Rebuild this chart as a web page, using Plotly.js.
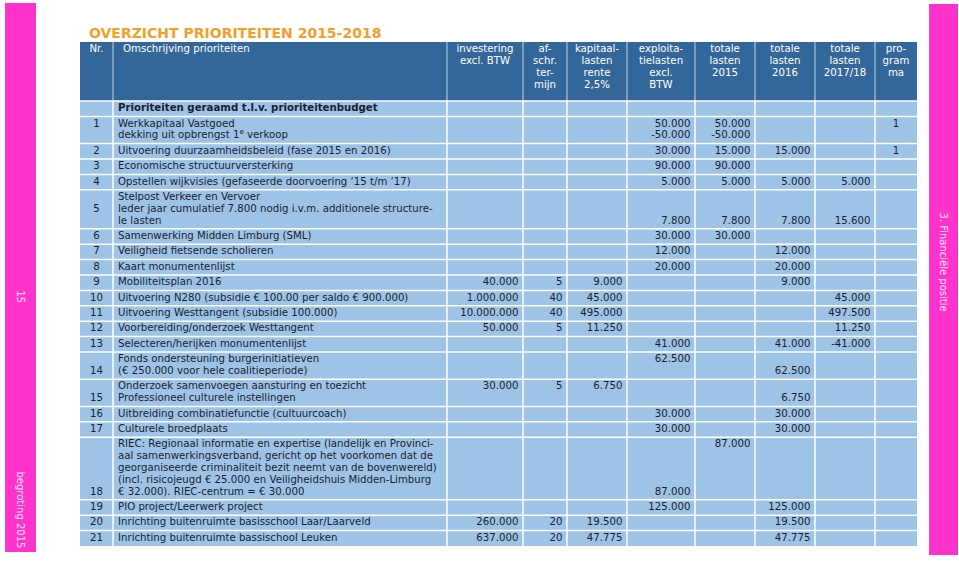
<!DOCTYPE html>
<html>
<head>
<meta charset="utf-8">
<script src="https://cdn.plot.ly/plotly-3.0.1.min.js"></script>
<style>html,body{margin:0;padding:0;background:#fff}</style>
</head>
<body>
<div id="chart" style="width:959px;height:561px"></div>
<script>
var title = 'OVERZICHT PRIORITEITEN 2015-2018';

var headers = ['Nr.', 'Omschrijving prioriteiten', 'investering\nexcl. BTW', 'af-\nschr.\nter-\nmijn',
  'kapitaal-\nlasten\nrente\n2,5%', 'exploita-\ntielasten\nexcl.\nBTW', 'totale\nlasten\n2015',
  'totale\nlasten\n2016', 'totale\nlasten\n2017/18', 'pro-\ngram\nma'];

var nr = ['', '1', '2', '3', '4', '5', '6', '7', '8', '9', '10', '11', '12', '13', '14', '15', '16', '17', '18', '19', '20', '21'];

var omschrijving = [
  'Prioriteiten geraamd t.l.v. prioriteitenbudget',
  'Werkkapitaal Vastgoed\ndekking uit opbrengst 1<sup>e</sup> verkoop',
  'Uitvoering duurzaamheidsbeleid (fase 2015 en 2016)',
  'Economische structuurversterking',
  'Opstellen wijkvisies (gefaseerde doorvoering ‘15 t/m ’17)',
  'Stelpost Verkeer en Vervoer\nIeder jaar cumulatief 7.800 nodig i.v.m. additionele structure-\nle lasten',
  'Samenwerking Midden Limburg (SML)',
  'Veiligheid fietsende scholieren',
  'Kaart monumentenlijst',
  'Mobiliteitsplan 2016',
  'Uitvoering N280 (subsidie € 100.00 per saldo € 900.000)',
  'Uitvoering Westtangent (subsidie 100.000)',
  'Voorbereiding/onderzoek Westtangent',
  'Selecteren/herijken monumentenlijst',
  'Fonds ondersteuning burgerinitiatieven\n(€ 250.000 voor hele coalitieperiode)',
  'Onderzoek samenvoegen aansturing en toezicht\nProfessioneel culturele instellingen',
  'Uitbreiding combinatiefunctie (cultuurcoach)',
  'Culturele broedplaats',
  'RIEC: Regionaal informatie en expertise (landelijk en Provinci-\naal samenwerkingsverband, gericht op het voorkomen dat de\ngeorganiseerde criminaliteit bezit neemt van de bovenwereld)\n(incl. risicojeugd € 25.000 en Veiligheidshuis Midden-Limburg\n€ 32.000). RIEC-centrum = € 30.000',
  'PIO project/Leerwerk project',
  'Inrichting buitenruimte basisschool Laar/Laarveld',
  'Inrichting buitenruimte bassischool Leuken'
];

var investering = ['', '', '', '', '', '', '', '', '', '40.000', '1.000.000', '10.000.000', '50.000', '', '', '30.000', '', '', '', '', '260.000', '637.000'];
var afschrijving = ['', '', '', '', '', '', '', '', '', '5', '40', '40', '5', '', '', '5', '', '', '', '', '20', '20'];
var kapitaallasten = ['', '', '', '', '', '', '', '', '', '9.000', '45.000', '495.000', '11.250', '', '', '6.750', '', '', '', '', '19.500', '47.775'];
var exploitatie = ['', '50.000\n-50.000', '30.000', '90.000', '5.000', '7.800', '30.000', '12.000', '20.000', '', '', '', '', '41.000', '62.500', '', '30.000', '30.000', '87.000', '125.000', '', ''];
var lasten2015 = ['', '50.000\n-50.000', '15.000', '90.000', '5.000', '7.800', '30.000', '', '', '', '', '', '', '', '', '', '', '', '87.000', '', '', ''];
var lasten2016 = ['', '', '15.000', '', '5.000', '7.800', '', '12.000', '20.000', '9.000', '', '', '', '41.000', '62.500', '6.750', '30.000', '30.000', '', '125.000', '19.500', '47.775'];
var lasten2017 = ['', '', '', '', '5.000', '15.600', '', '', '', '', '45.000', '497.500', '11.250', '-41.000', '', '', '', '', '', '', '', ''];
var programma = ['', '1', '1', '', '', '', '', '', '', '', '', '', '', '', '', '', '', '', '', '', '', ''];

var sideLeft = ['15', 'begroting 2015'];
var sideRight = '3. Financiële positie';

// layout of the table
var columns = [nr, omschrijving, investering, afschrijving, kapitaallasten, exploitatie, lasten2015, lasten2016, lasten2017, programma];
var colWidths = [33, 334, 76, 44, 60, 68, 60, 60, 60, 42];
var colAlign = ['center', 'left', 'right', 'right', 'right', 'right', 'right', 'right', 'right', 'center'];
var boldRows = [0];
// line on which a cell starts when it is not the first line of its row
var startLine = {
  5: {0: 1, 5: 2, 6: 2, 7: 2, 8: 2},
  14: {0: 1, 7: 1},
  15: {0: 1, 7: 1},
  18: {0: 4, 5: 4}
};
var tableLeft = 80, headTop = 42, headHeight = 59;
var lineH = 11.8, rowPad = 3.6, cellPad = 4.5;

var edges = [tableLeft];
colWidths.forEach(function (w) { edges.push(edges[edges.length - 1] + w); });
var tableRight = edges[edges.length - 1];

var nLines = nr.map(function (d, r) {
  var n = 1;
  columns.forEach(function (col, c) {
    if (!col[r]) return;
    var first = (startLine[r] && startLine[r][c]) || 0;
    n = Math.max(n, first + col[r].split('\n').length);
  });
  return n;
});
var rowTops = [headTop + headHeight];
nLines.forEach(function (n) { rowTops.push(rowTops[rowTops.length - 1] + n * lineH + rowPad); });
var tableBottom = rowTops[rowTops.length - 1];

function anchorX(c, pad) {
  if (colAlign[c] === 'left') return edges[c] + pad;
  if (colAlign[c] === 'right') return edges[c + 1] - pad;
  return (edges[c] + edges[c + 1]) / 2;
}
var posOf = {left: 'middle right', right: 'middle left', center: 'middle center'};

// body text
var bx = [], by = [], bt = [], bp = [];
columns.forEach(function (col, c) {
  col.forEach(function (cell, r) {
    if (!cell) return;
    var first = (startLine[r] && startLine[r][c]) || 0;
    cell.split('\n').forEach(function (line, k) {
      bx.push(anchorX(c, c === 1 ? 5 : cellPad));
      by.push(rowTops[r] + rowPad / 2 + lineH * (first + k + 0.5));
      bt.push(boldRows.indexOf(r) >= 0 ? '<b>' + line + '</b>' : line);
      bp.push(posOf[colAlign[c]]);
    });
  });
});

// header text
var hx = [], hy = [], ht = [], hp = [];
var headAlign = ['center', 'left', 'center', 'center', 'center', 'center', 'center', 'center', 'center', 'center'];
headers.forEach(function (h, c) {
  h.split('\n').forEach(function (line, k) {
    var x = headAlign[c] === 'left' ? edges[c] + 10 : (edges[c] + edges[c + 1]) / 2;
    hx.push(x);
    hy.push(headTop + 2 + lineH * (k + 0.5));
    ht.push(line);
    hp.push(headAlign[c] === 'left' ? 'middle right' : 'middle center');
  });
});

var shapes = [
  {type: 'rect', xref: 'x', yref: 'y', x0: 5, x1: 36, y0: 3, y1: 552, fillcolor: '#ff33cc', line: {width: 0}, layer: 'below'},
  {type: 'rect', xref: 'x', yref: 'y', x0: 929, x1: 958, y0: 4, y1: 555, fillcolor: '#ff33cc', line: {width: 0}, layer: 'below'},
  {type: 'rect', xref: 'x', yref: 'y', x0: tableLeft, x1: tableRight, y0: headTop, y1: headTop + headHeight, fillcolor: '#346799', line: {width: 0}, layer: 'below'},
  {type: 'rect', xref: 'x', yref: 'y', x0: tableLeft, x1: tableRight, y0: headTop + headHeight, y1: tableBottom, fillcolor: '#9dc3e6', line: {width: 0}, layer: 'below'}
];
edges.slice(1, -1).forEach(function (x) {
  shapes.push({type: 'line', xref: 'x', yref: 'y', x0: x, x1: x, y0: headTop, y1: headTop + headHeight, line: {color: 'rgba(230,240,250,0.8)', width: 1}, layer: 'below'});
  shapes.push({type: 'line', xref: 'x', yref: 'y', x0: x, x1: x, y0: headTop + headHeight, y1: tableBottom, line: {color: '#ffffff', width: 1.5}, layer: 'below'});
});
rowTops.slice(0, -1).forEach(function (y) {
  shapes.push({type: 'line', xref: 'x', yref: 'y', x0: tableLeft, x1: tableRight, y0: y, y1: y, line: {color: '#ffffff', width: 1.5}, layer: 'below'});
});

var sideFont = {family: 'DejaVu Sans, Verdana, sans-serif', size: 10, color: '#ffe0f6'};
var annotations = [
  {text: sideLeft[0], x: 20.5, y: 297, xref: 'x', yref: 'y', showarrow: false, textangle: 90, font: sideFont},
  {text: sideLeft[1], x: 20.5, y: 510, xref: 'x', yref: 'y', showarrow: false, textangle: 90, font: sideFont},
  {text: sideRight, x: 943.5, y: 262, xref: 'x', yref: 'y', showarrow: false, textangle: 90, font: sideFont}
];

var data = [
  {x: bx, y: by, text: bt, textposition: bp, mode: 'text', type: 'scatter', hoverinfo: 'none',
   textfont: {family: 'DejaVu Sans, Verdana, sans-serif', size: 10.2, color: '#1a1d2e'}},
  {x: hx, y: hy, text: ht, textposition: hp, mode: 'text', type: 'scatter', hoverinfo: 'none',
   textfont: {family: 'DejaVu Sans, Verdana, sans-serif', size: 10.2, color: '#ffffff'}}
];

var layout = {
  width: 959,
  height: 561,
  margin: {l: 0, r: 0, t: 0, b: 0},
  paper_bgcolor: '#ffffff',
  plot_bgcolor: '#ffffff',
  showlegend: false,
  title: {text: '<b>' + title + '</b>', x: 89 / 959, xanchor: 'left', y: 1 - 33 / 561, yanchor: 'middle',
          font: {family: 'DejaVu Sans, Verdana, sans-serif', size: 14, color: '#f2a02a'}},
  xaxis: {range: [0, 959], visible: false, fixedrange: true},
  yaxis: {range: [561, 0], visible: false, fixedrange: true},
  shapes: shapes,
  annotations: annotations
};

Plotly.newPlot('chart', data, layout, {displayModeBar: false, staticPlot: true});
</script>
</body>
</html>
